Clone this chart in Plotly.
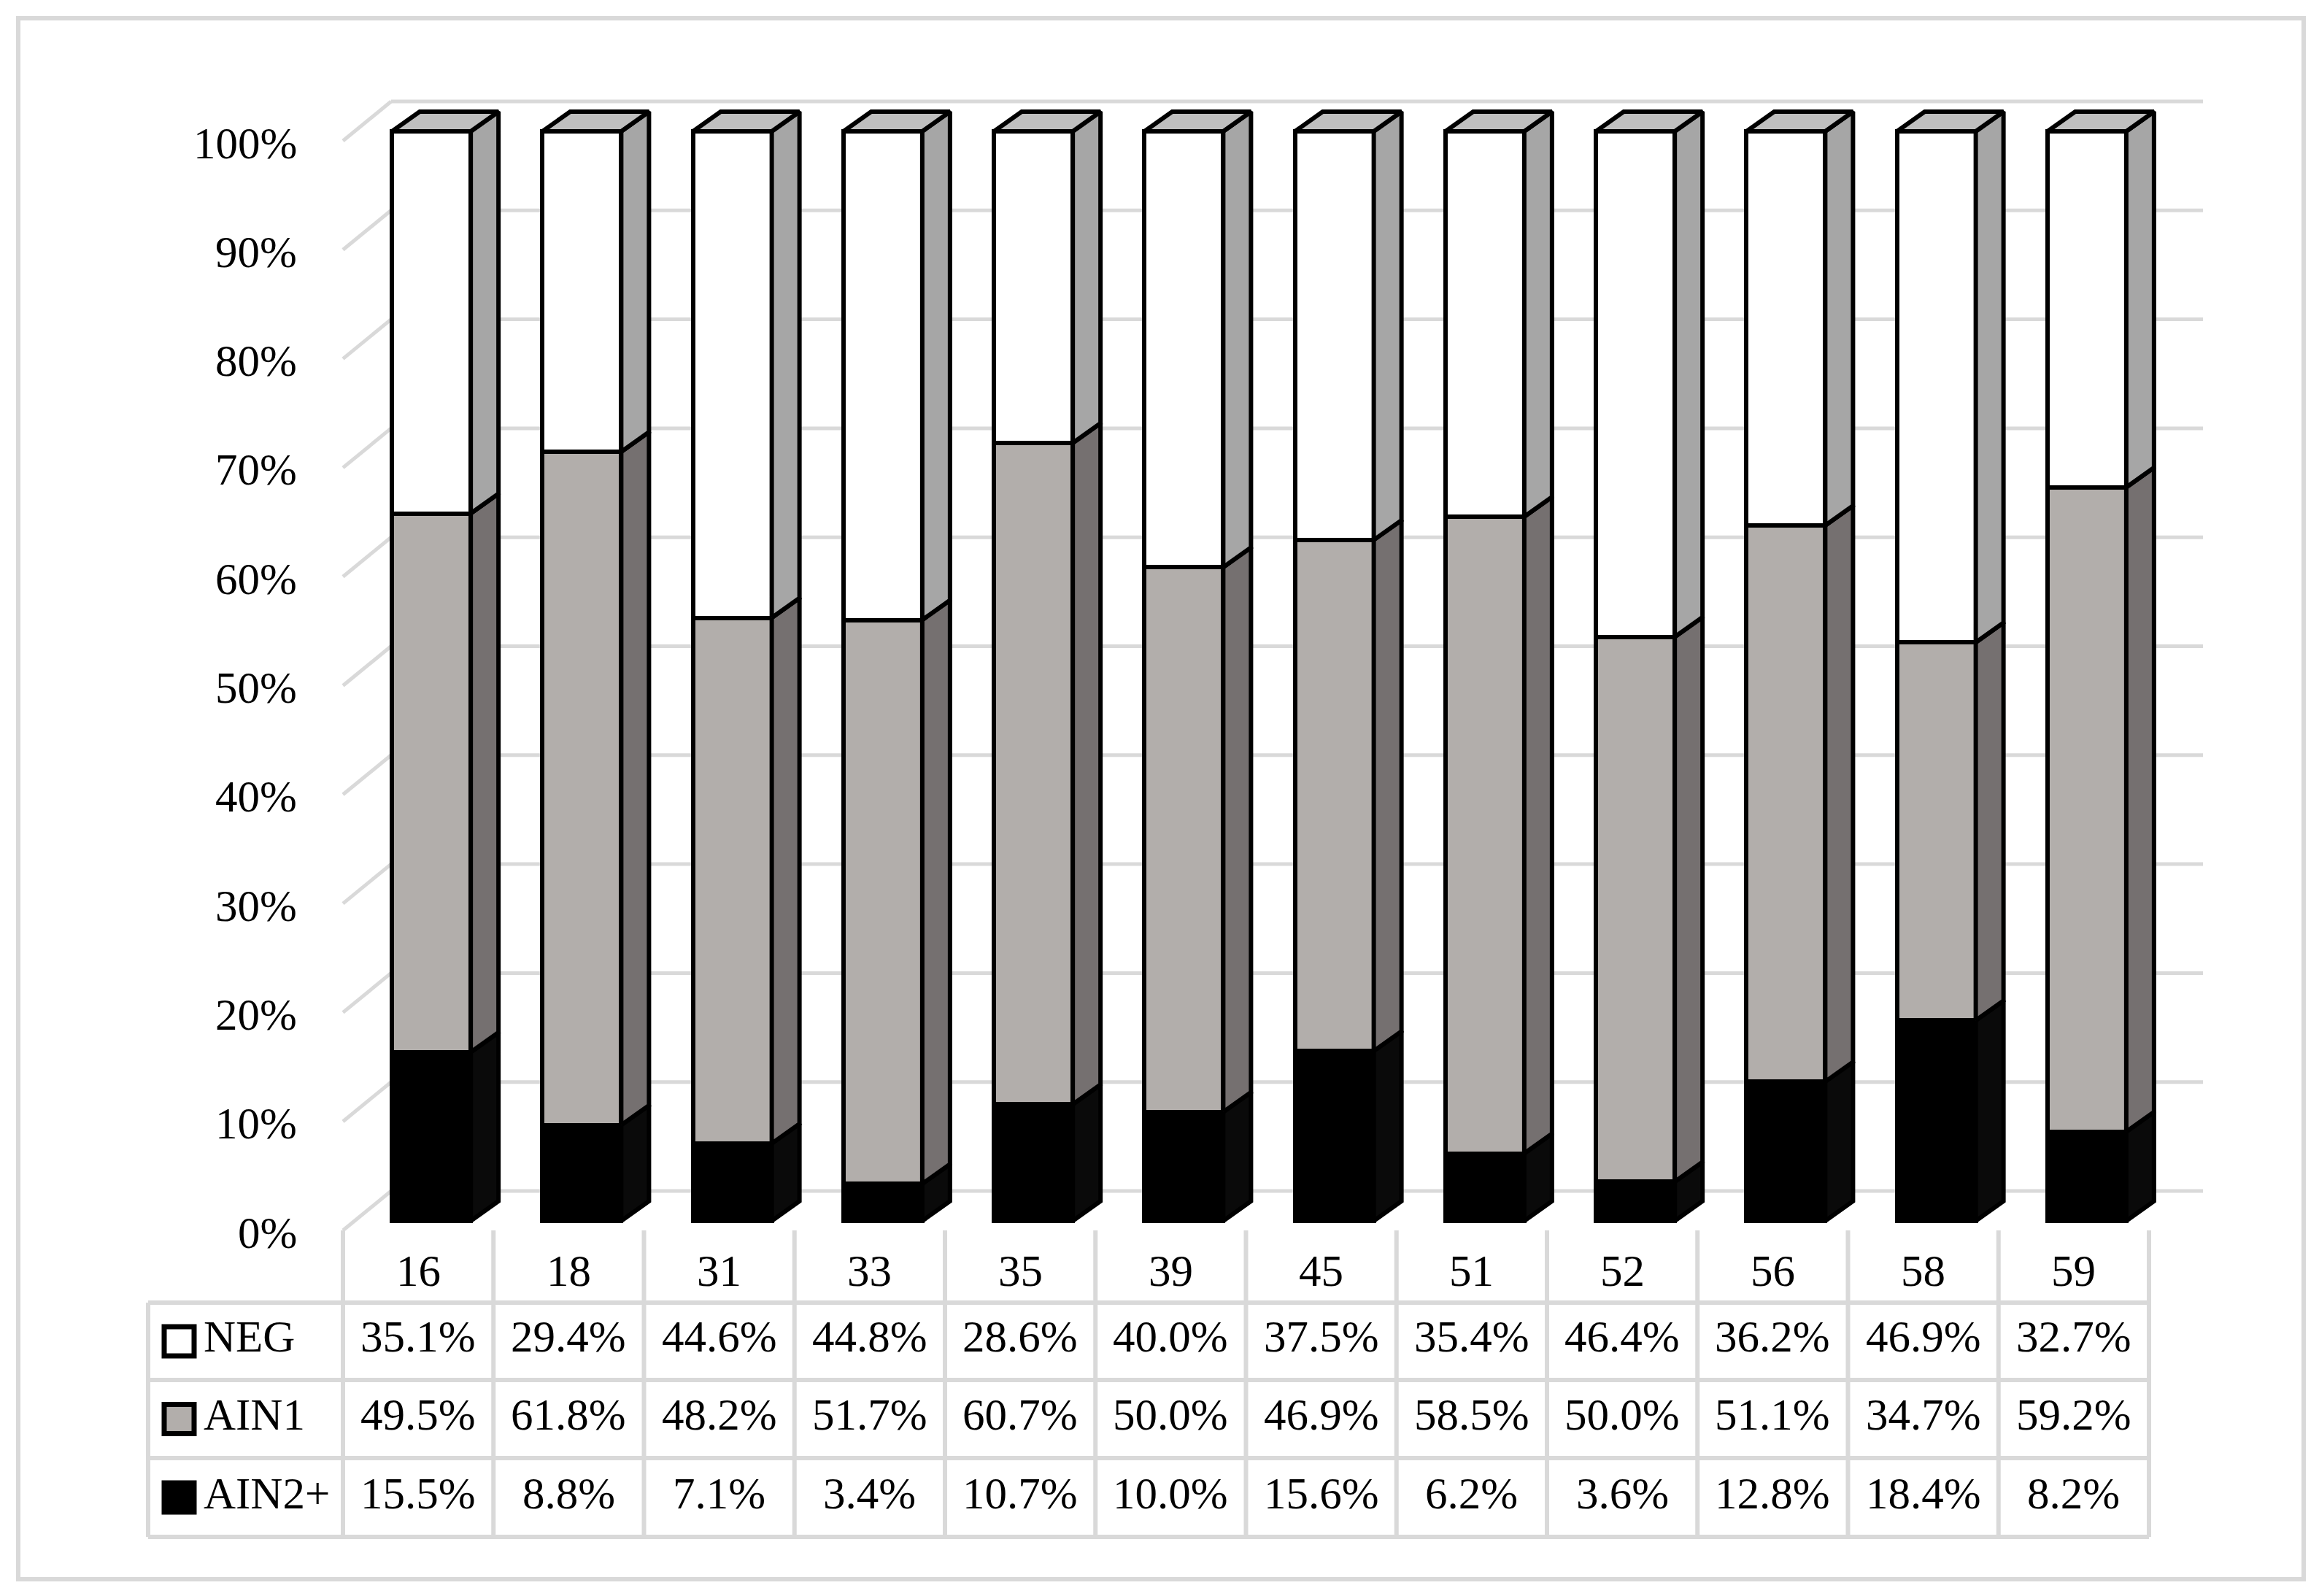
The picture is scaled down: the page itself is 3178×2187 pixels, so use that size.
import plotly.graph_objects as go

# ---------------- data ----------------
categories = ["16", "18", "31", "33", "35", "39", "45", "51", "52", "56", "58", "59"]
neg = [35.1, 29.4, 44.6, 44.8, 28.6, 40.0, 37.5, 35.4, 46.4, 36.2, 46.9, 32.7]
ain1 = [49.5, 61.8, 48.2, 51.7, 60.7, 50.0, 46.9, 58.5, 50.0, 51.1, 34.7, 59.2]
ain2 = [15.5, 8.8, 7.1, 3.4, 10.7, 10.0, 15.6, 6.2, 3.6, 12.8, 18.4, 8.2]
series_names = ["NEG", "AIN1", "AIN2+"]
y_ticks = [0, 10, 20, 30, 40, 50, 60, 70, 80, 90, 100]
y_tick_labels = ["0%", "10%", "20%", "30%", "40%", "50%", "60%", "70%", "80%", "90%", "100%"]

# ---------------- style / geometry ----------------
W, H = 3178, 2187
OFF = 8.0                      # page body margin
PXX, X0PX = 206.25, 470.0 - OFF   # pixels per category, pixel of x=-0.5
PXY, Y0PX = 14.93, 1686.0 - OFF   # pixels per percent, pixel of y=0
XR = [-0.5 - X0PX / PXX, -0.5 + (W - X0PX) / PXX]
YR = [-(H - Y0PX) / PXY, Y0PX / PXY]


def px_to_x(p):
    return -0.5 + (p - OFF - X0PX) / PXX


WALL_DX, WALL_DY = 66 / PXX, 54 / PXY
BAR_FDX, BAR_FDY = 18 / PXX, 13 / PXY
SIDE_DX, SIDE_DY = 38 / PXX, 27 / PXY
BAR_W = 108 / PXX
OUT_W = 6
GRID = "#d9d9d9"
FONT = dict(family="Liberation Serif", size=61, color="black")
TXT_UP = 6 / PXY

front_col = {"NEG": "#ffffff", "AIN1": "#b2aeab", "AIN2+": "#000000"}
side_col = {"NEG": "#a6a6a6", "AIN1": "#757070", "AIN2+": "#0a0a0a"}
top_col = "#bfbfbf"

vals = {"NEG": neg, "AIN1": ain1, "AIN2+": ain2}
n = len(categories)
totals = [neg[i] + ain1[i] + ain2[i] for i in range(n)]
stack_order = ["AIN2+", "AIN1", "NEG"]   # bottom -> top
norm = {s: [vals[s][i] / totals[i] * 100 for i in range(n)] for s in stack_order}
bases = {}
cum = [0.0] * n
for s in stack_order:
    bases[s] = cum[:]
    cum = [cum[i] + norm[s][i] for i in range(n)]

fig = go.Figure()

# front faces (bars)
for s in stack_order:
    fig.add_trace(go.Bar(
        x=[i + BAR_FDX for i in range(n)],
        y=norm[s],
        base=[b + BAR_FDY for b in bases[s]],
        width=BAR_W,
        marker=dict(color=front_col[s], line=dict(color="black", width=OUT_W)),
        showlegend=False, hoverinfo="skip",
    ))

# side faces
for s in stack_order:
    xs, ys = [], []
    for i in range(n):
        xf = i + BAR_FDX + BAR_W / 2
        y0 = bases[s][i] + BAR_FDY
        y1 = y0 + norm[s][i]
        xs += [xf, xf, xf + SIDE_DX, xf + SIDE_DX, xf, None]
        ys += [y0, y1, y1 + SIDE_DY, y0 + SIDE_DY, y0, None]
    fig.add_trace(go.Scatter(x=xs, y=ys, mode="lines", fill="toself",
                             fillcolor=side_col[s],
                             line=dict(color="black", width=OUT_W),
                             showlegend=False, hoverinfo="skip"))

# top faces
xs, ys = [], []
for i in range(n):
    xl = i + BAR_FDX - BAR_W / 2
    xr = i + BAR_FDX + BAR_W / 2
    yt = cum[i] + BAR_FDY
    xs += [xl, xr, xr + SIDE_DX, xl + SIDE_DX, xl, None]
    ys += [yt, yt, yt + SIDE_DY, yt + SIDE_DY, yt, None]
fig.add_trace(go.Scatter(x=xs, y=ys, mode="lines", fill="toself", fillcolor=top_col,
                         line=dict(color="black", width=OUT_W),
                         showlegend=False, hoverinfo="skip"))

shapes = []
# gridlines: back wall + left wall diagonals
for v in y_ticks:
    shapes.append(dict(type="line", xref="x", yref="y", layer="below",
                       x0=-0.5 + WALL_DX, x1=n - 0.5 + WALL_DX + 8 / PXX,
                       y0=v + WALL_DY, y1=v + WALL_DY,
                       line=dict(color=GRID, width=5)))
    shapes.append(dict(type="line", xref="x", yref="y", layer="below",
                       x0=-0.5, x1=-0.5 + WALL_DX, y0=v, y1=v + WALL_DY,
                       line=dict(color=GRID, width=5)))

# data table
row_lines = [-6.63, -13.73, -20.90, -28.13]
row_centers = [(row_lines[k] + row_lines[k + 1]) / 2 for k in range(3)]
cat_y = -4.15
leg_left = px_to_x(203)
for k in range(n + 1):
    shapes.append(dict(type="line", xref="x", yref="y", layer="below",
                       x0=-0.5 + k, x1=-0.5 + k, y0=0, y1=row_lines[-1],
                       line=dict(color=GRID, width=6)))
shapes.append(dict(type="line", xref="x", yref="y", layer="below",
                   x0=leg_left, x1=leg_left, y0=row_lines[0], y1=row_lines[-1],
                   line=dict(color=GRID, width=6)))
for yl in row_lines:
    shapes.append(dict(type="line", xref="x", yref="y", layer="below",
                       x0=leg_left, x1=n - 0.5, y0=yl, y1=yl,
                       line=dict(color=GRID, width=6)))

# legend keys
kx0 = px_to_x(225)
kx1 = px_to_x(266)
kh = 20 / PXY
for k, s in enumerate(series_names):
    shapes.append(dict(type="rect", xref="x", yref="y",
                       x0=kx0, x1=kx1, y0=row_centers[k] - kh, y1=row_centers[k] + kh,
                       fillcolor=front_col[s], line=dict(color="black", width=7)))

# outer border
shapes.append(dict(type="rect", xref="paper", yref="paper",
                   x0=(25 - OFF) / W, x1=(3157 - OFF) / W,
                   y0=1 - (2164 - OFF) / H, y1=1 - (25 - OFF) / H,
                   line=dict(color=GRID, width=6), fillcolor="rgba(0,0,0,0)", layer="below"))

annotations = []
for v, lab in zip(y_ticks, y_tick_labels):
    annotations.append(dict(x=px_to_x(409), y=v - 3 / PXY, xref="x", yref="y",
                            text=lab, showarrow=False, xanchor="right", yanchor="middle",
                            font=FONT))
for i, c in enumerate(categories):
    annotations.append(dict(x=i, y=cat_y + TXT_UP, xref="x", yref="y", text=c, showarrow=False,
                            xanchor="center", yanchor="middle", font=FONT))
for k, s in enumerate(series_names):
    annotations.append(dict(x=px_to_x(277), y=row_centers[k] + TXT_UP, xref="x", yref="y",
                            text=s, showarrow=False, xanchor="left", yanchor="middle", font=FONT))
    for i in range(n):
        annotations.append(dict(x=i, y=row_centers[k] + TXT_UP, xref="x", yref="y",
                                text=f"{vals[s][i]:.1f}%", showarrow=False,
                                xanchor="center", yanchor="middle", font=FONT))

fig.update_layout(
    width=W, height=H,
    margin=dict(l=0, r=0, t=0, b=0, pad=0),
    paper_bgcolor="white", plot_bgcolor="white",
    barmode="overlay", bargap=0,
    shapes=shapes, annotations=annotations,
    xaxis=dict(range=XR, visible=False, fixedrange=True),
    yaxis=dict(range=YR, visible=False, fixedrange=True),
    showlegend=False,
)
fig.write_html("out.html")
